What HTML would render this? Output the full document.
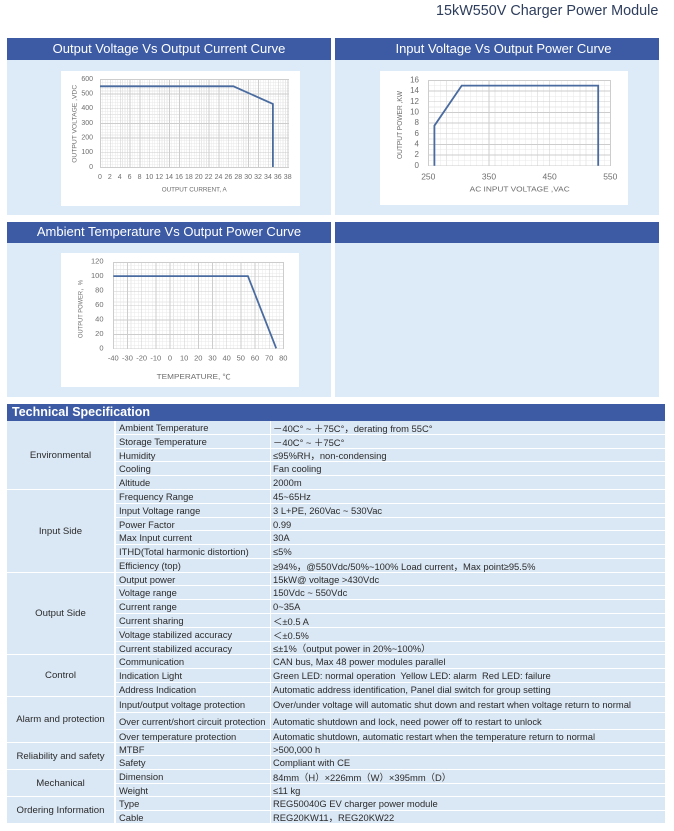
<!DOCTYPE html>
<html><head><meta charset="utf-8">
<style>
*{margin:0;padding:0;box-sizing:border-box}
html,body{width:674px;height:831px;overflow:hidden;background:#fff}
body{position:relative;font-family:"Liberation Sans","Noto Sans CJK SC",sans-serif;color:#2b2b2b}
.abs{position:absolute}
.title{left:436px;top:2px;font-size:14.4px;color:#2d3d5c;white-space:nowrap;line-height:18px}
.panel{position:absolute;background:#dcebf7}
.bar{position:absolute;left:0;top:0;right:0;background:#3c5ba4;color:#fff;font-size:13px;text-align:center;white-space:nowrap}
.wbox{position:absolute;background:#fff}
.grid{position:absolute}
.tsh{left:7px;top:404px;width:658px;height:17px;background:#3c5ba4;color:#fff;font-weight:bold;font-size:12.5px;line-height:17px;padding-left:5px;white-space:nowrap}
.c{position:absolute;background:#dae7f4;display:flex;align-items:center;font-size:9.4px;white-space:pre;overflow:visible}
.g{left:7px;width:107px;justify-content:center;font-size:9.6px}
.c2{left:116px;width:154px;padding-left:3px}
.c3{left:271px;width:394px;padding-left:2px}
</style></head><body>

<div class="abs title">15kW550V Charger Power Module</div>

<!-- Panels -->
<div class="panel" style="left:7px;top:38px;width:324px;height:177px">
  <div class="bar" style="height:22px;line-height:22px">Output Voltage Vs Output Current Curve</div>
</div>
<div class="panel" style="left:335px;top:38px;width:324px;height:177px">
  <div class="bar" style="height:22px;line-height:22px;padding-left:13px">Input Voltage Vs Output Power Curve</div>
</div>
<div class="panel" style="left:7px;top:222px;width:324px;height:175px">
  <div class="bar" style="height:21px;line-height:20px">Ambient Temperature Vs Output Power Curve</div>
</div>
<div class="panel" style="left:335px;top:222px;width:324px;height:175px">
  <div class="bar" style="height:21px"></div>
</div>

<!-- white chart boxes -->
<div class="wbox" style="left:61px;top:71px;width:239px;height:135px"></div>
<div class="wbox" style="left:380px;top:71px;width:248px;height:134px"></div>
<div class="wbox" style="left:61px;top:253px;width:238px;height:134px"></div>

<!-- grids -->
<div class="grid" style="left:100px;top:79px;width:188.5px;height:89px;background-image:
repeating-linear-gradient(90deg,#cdcdcd 0,#cdcdcd 0.8px,transparent 0.8px,transparent 9.8776px),
repeating-linear-gradient(180deg,#cdcdcd 0,#cdcdcd 0.8px,transparent 0.8px,transparent 14.6667px),
repeating-linear-gradient(90deg,#e8e8e8 0,#e8e8e8 0.6px,transparent 0.6px,transparent 2.4694px),
repeating-linear-gradient(180deg,#e8e8e8 0,#e8e8e8 0.6px,transparent 0.6px,transparent 2.9333px)"></div>

<div class="grid" style="left:428.3px;top:80.3px;width:183px;height:86.2px;background-image:
repeating-linear-gradient(90deg,#cdcdcd 0,#cdcdcd 0.8px,transparent 0.8px,transparent 60.667px),
repeating-linear-gradient(180deg,#cdcdcd 0,#cdcdcd 0.8px,transparent 0.8px,transparent 10.675px),
repeating-linear-gradient(90deg,#e8e8e8 0,#e8e8e8 0.6px,transparent 0.6px,transparent 6.0667px),
repeating-linear-gradient(180deg,#e8e8e8 0,#e8e8e8 0.6px,transparent 0.6px,transparent 5.3375px)"></div>

<div class="grid" style="left:113.3px;top:261.7px;width:170.8px;height:87.4px;background-image:
repeating-linear-gradient(90deg,#cdcdcd 0,#cdcdcd 0.8px,transparent 0.8px,transparent 14.1667px),
repeating-linear-gradient(180deg,#cdcdcd 0,#cdcdcd 0.8px,transparent 0.8px,transparent 14.4333px),
repeating-linear-gradient(90deg,#e8e8e8 0,#e8e8e8 0.6px,transparent 0.6px,transparent 3.5417px),
repeating-linear-gradient(180deg,#e8e8e8 0,#e8e8e8 0.6px,transparent 0.6px,transparent 3.6083px)"></div>

<svg class="abs" style="left:0;top:0" width="674" height="831" viewBox="0 0 674 831" xmlns="http://www.w3.org/2000/svg" font-family="Liberation Sans, sans-serif">
  <!-- Chart 1 -->
  <polyline points="100,86.3 233.4,86.3 272.9,103.9 272.9,167" fill="none" stroke="#4a6b9f" stroke-width="1.8"/>
  <g font-size="7" fill="#6e6e6e" text-anchor="end" dominant-baseline="middle">
    <text x="93" y="79">600</text><text x="93" y="93.67">500</text><text x="93" y="108.33">400</text>
    <text x="93" y="123">300</text><text x="93" y="137.67">200</text><text x="93" y="152.33">100</text><text x="93" y="167">0</text>
  </g>
  <g font-size="7" fill="#6e6e6e" text-anchor="middle" dominant-baseline="middle">
    <text x="100" y="177">0</text><text x="109.88" y="177">2</text><text x="119.76" y="177">4</text><text x="129.64" y="177">6</text>
    <text x="139.52" y="177">8</text><text x="149.4" y="177">10</text><text x="159.27" y="177">12</text><text x="169.15" y="177">14</text>
    <text x="179.03" y="177">16</text><text x="188.91" y="177">18</text><text x="198.79" y="177">20</text><text x="208.67" y="177">22</text>
    <text x="218.55" y="177">24</text><text x="228.43" y="177">26</text><text x="238.31" y="177">28</text><text x="248.19" y="177">30</text>
    <text x="258.07" y="177">32</text><text x="267.95" y="177">34</text><text x="277.82" y="177">36</text><text x="287.7" y="177">38</text>
  </g>
  <text x="194.2" y="190" font-size="6.5" fill="#6e6e6e" text-anchor="middle" dominant-baseline="middle" textLength="65" lengthAdjust="spacingAndGlyphs">OUTPUT CURRENT, A</text>
  <text transform="translate(75,123.8) rotate(-90)" font-size="6.5" fill="#6e6e6e" text-anchor="middle" dominant-baseline="middle" textLength="78" lengthAdjust="spacingAndGlyphs">OUTPUT VOLTAGE ,VDC</text>

  <!-- Chart 2 -->
  <polyline points="434.4,165.7 434.4,125.7 461.7,85.6 598.2,85.6 598.2,165.7" fill="none" stroke="#4a6b9f" stroke-width="1.8"/>
  <g font-size="8" fill="#6e6e6e" text-anchor="end" dominant-baseline="middle">
    <text x="419" y="80.3">16</text><text x="419" y="90.98">14</text><text x="419" y="101.65">12</text><text x="419" y="112.33">10</text>
    <text x="419" y="123">8</text><text x="419" y="133.68">6</text><text x="419" y="144.35">4</text><text x="419" y="155.03">2</text><text x="419" y="165.7">0</text>
  </g>
  <g font-size="8.5" fill="#6e6e6e" text-anchor="middle" dominant-baseline="middle">
    <text x="428.3" y="177">250</text><text x="489" y="177">350</text><text x="549.6" y="177">450</text><text x="610.3" y="177">550</text>
  </g>
  <text x="519.7" y="189.7" font-size="7.5" fill="#6e6e6e" text-anchor="middle" dominant-baseline="middle" textLength="100" lengthAdjust="spacingAndGlyphs">AC INPUT VOLTAGE ,VAC</text>
  <text transform="translate(400,125) rotate(-90)" font-size="7" fill="#6e6e6e" text-anchor="middle" dominant-baseline="middle" textLength="68" lengthAdjust="spacingAndGlyphs">OUTPUT POWER ,KW</text>

  <!-- Chart 3 -->
  <polyline points="113.3,276.1 247.9,276.1 276.2,348.3" fill="none" stroke="#4a6b9f" stroke-width="1.8"/>
  <g font-size="7.5" fill="#6e6e6e" text-anchor="end" dominant-baseline="middle">
    <text x="103.5" y="261.7">120</text><text x="103.5" y="276.13">100</text><text x="103.5" y="290.57">80</text><text x="103.5" y="305">60</text>
    <text x="103.5" y="319.43">40</text><text x="103.5" y="333.87">20</text><text x="103.5" y="348.3">0</text>
  </g>
  <g font-size="7.5" fill="#6e6e6e" text-anchor="middle" dominant-baseline="middle">
    <text x="113.3" y="358.3">-40</text><text x="127.47" y="358.3">-30</text><text x="141.63" y="358.3">-20</text><text x="155.8" y="358.3">-10</text>
    <text x="169.97" y="358.3">0</text><text x="184.13" y="358.3">10</text><text x="198.3" y="358.3">20</text><text x="212.47" y="358.3">30</text>
    <text x="226.63" y="358.3">40</text><text x="240.8" y="358.3">50</text><text x="254.97" y="358.3">60</text><text x="269.13" y="358.3">70</text><text x="283.3" y="358.3">80</text>
  </g>
  <text x="193.7" y="377.3" font-size="7" fill="#6e6e6e" text-anchor="middle" dominant-baseline="middle" textLength="74" lengthAdjust="spacingAndGlyphs" font-family="Liberation Sans, Noto Sans CJK SC, sans-serif">TEMPERATURE, ℃</text>
  <text transform="translate(81,309) rotate(-90)" font-size="6.5" fill="#6e6e6e" text-anchor="middle" dominant-baseline="middle" textLength="58" lengthAdjust="spacingAndGlyphs" font-family="Liberation Sans, Noto Sans CJK SC, sans-serif">OUTPUT POWER，%</text>
</svg>

<!-- Technical specification -->
<div class="abs tsh">Technical Specification</div>

<!-- group cells -->
<div class="c g" style="top:421px;height:68px">Environmental</div>
<div class="c g" style="top:490px;height:82px">Input Side</div>
<div class="c g" style="top:573px;height:81px">Output Side</div>
<div class="c g" style="top:655px;height:41px">Control</div>
<div class="c g" style="top:697px;height:45px">Alarm and protection</div>
<div class="c g" style="top:743px;height:26px">Reliability and safety</div>
<div class="c g" style="top:770px;height:26px">Mechanical</div>
<div class="c g" style="top:797px;height:26px">Ordering Information</div>

<!-- rows -->
<div class="c c2" style="top:421px;height:13px">Ambient Temperature</div><div class="c c3" style="top:421px;height:13px">－40C° ~ ＋75C°，derating from 55C°</div>
<div class="c c2" style="top:435px;height:13px">Storage Temperature</div><div class="c c3" style="top:435px;height:13px">－40C° ~ ＋75C°</div>
<div class="c c2" style="top:449px;height:12px">Humidity</div><div class="c c3" style="top:449px;height:12px">≤95%RH，non-condensing</div>
<div class="c c2" style="top:462px;height:13px">Cooling</div><div class="c c3" style="top:462px;height:13px">Fan cooling</div>
<div class="c c2" style="top:476px;height:13px">Altitude</div><div class="c c3" style="top:476px;height:13px">2000m</div>
<div class="c c2" style="top:490px;height:13px">Frequency Range</div><div class="c c3" style="top:490px;height:13px">45~65Hz</div>
<div class="c c2" style="top:504px;height:13px">Input Voltage range</div><div class="c c3" style="top:504px;height:13px">3 L+PE, 260Vac ~ 530Vac</div>
<div class="c c2" style="top:518px;height:12px">Power Factor</div><div class="c c3" style="top:518px;height:12px">0.99</div>
<div class="c c2" style="top:531px;height:13px">Max Input current</div><div class="c c3" style="top:531px;height:13px">30A</div>
<div class="c c2" style="top:545px;height:13px">ITHD(Total harmonic distortion)</div><div class="c c3" style="top:545px;height:13px">≤5%</div>
<div class="c c2" style="top:559px;height:13px">Efficiency (top)</div><div class="c c3" style="top:559px;height:13px">≥94%，@550Vdc/50%~100% Load current，Max point≥95.5%</div>
<div class="c c2" style="top:573px;height:12px">Output power</div><div class="c c3" style="top:573px;height:12px">15kW@ voltage &gt;430Vdc</div>
<div class="c c2" style="top:586px;height:13px">Voltage range</div><div class="c c3" style="top:586px;height:13px">150Vdc ~ 550Vdc</div>
<div class="c c2" style="top:600px;height:13px">Current range</div><div class="c c3" style="top:600px;height:13px">0~35A</div>
<div class="c c2" style="top:614px;height:13px">Current sharing</div><div class="c c3" style="top:614px;height:13px">＜±0.5 A</div>
<div class="c c2" style="top:628px;height:13px">Voltage stabilized accuracy</div><div class="c c3" style="top:628px;height:13px">＜±0.5%</div>
<div class="c c2" style="top:642px;height:12px">Current stabilized accuracy</div><div class="c c3" style="top:642px;height:12px">≤±1%（output power in 20%~100%）</div>
<div class="c c2" style="top:655px;height:13px">Communication</div><div class="c c3" style="top:655px;height:13px">CAN bus, Max 48 power modules parallel</div>
<div class="c c2" style="top:669px;height:13px">Indication Light</div><div class="c c3" style="top:669px;height:13px">Green LED: normal operation  Yellow LED: alarm  Red LED: failure</div>
<div class="c c2" style="top:683px;height:13px">Address Indication</div><div class="c c3" style="top:683px;height:13px">Automatic address identification, Panel dial switch for group setting</div>
<div class="c c2" style="top:697px;height:15px">Input/output voltage protection</div><div class="c c3" style="top:697px;height:15px">Over/under voltage will automatic shut down and restart when voltage return to normal</div>
<div class="c c2" style="top:713px;height:16px">Over current/short circuit protection</div><div class="c c3" style="top:713px;height:16px">Automatic shutdown and lock, need power off to restart to unlock</div>
<div class="c c2" style="top:730px;height:12px">Over temperature protection</div><div class="c c3" style="top:730px;height:12px">Automatic shutdown, automatic restart when the temperature return to normal</div>
<div class="c c2" style="top:743px;height:12px">MTBF</div><div class="c c3" style="top:743px;height:12px">&gt;500,000 h</div>
<div class="c c2" style="top:756px;height:13px">Safety</div><div class="c c3" style="top:756px;height:13px">Compliant with CE</div>
<div class="c c2" style="top:770px;height:13px">Dimension</div><div class="c c3" style="top:770px;height:13px">84mm（H）×226mm（W）×395mm（D）</div>
<div class="c c2" style="top:784px;height:12px">Weight</div><div class="c c3" style="top:784px;height:12px">≤11 kg</div>
<div class="c c2" style="top:797px;height:13px">Type</div><div class="c c3" style="top:797px;height:13px">REG50040G EV charger power module</div>
<div class="c c2" style="top:811px;height:12px">Cable</div><div class="c c3" style="top:811px;height:12px">REG20KW11，REG20KW22</div>

</body></html>
